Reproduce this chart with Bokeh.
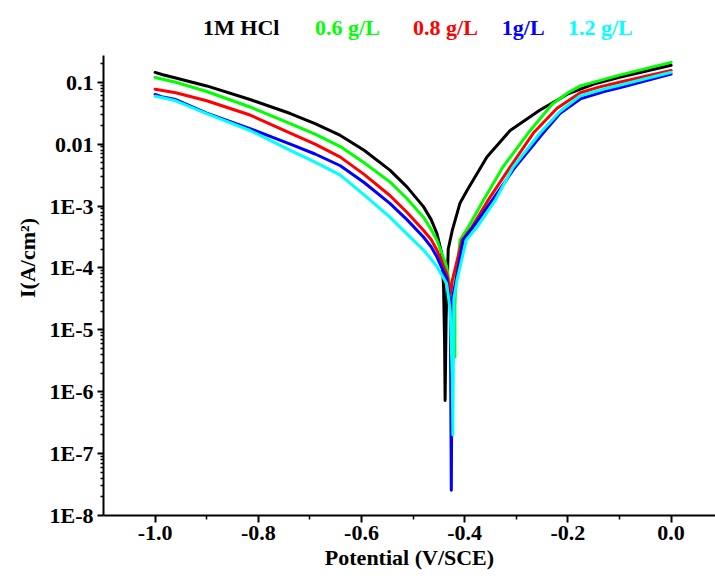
from bokeh.plotting import figure
from bokeh.models import Range1d, FixedTicker, CustomJSTickFormatter, Label
from bokeh.embed import file_html
from bokeh.resources import INLINE

# ---- data (potential V/SCE, current A/cm^2) ----
E_hcl = [-1.000, -0.985, -0.960, -0.900, -0.816, -0.738, -0.690, -0.641, -0.595, -0.545,
         -0.512, -0.480, -0.465, -0.454, -0.445, -0.441, -0.439, -0.438, -0.436, -0.432,
         -0.424, -0.409, -0.395, -0.357, -0.312, -0.254, -0.200, -0.150, -0.100, 0.000]
I_hcl = [1.44e-1, 1.32e-1, 1.17e-1, 8.71e-2, 5.25e-2, 3.12e-2, 2.14e-2, 1.38e-2, 7.94e-3, 3.80e-3,
         2.04e-3, 9.77e-4, 6.03e-4, 3.63e-4, 1.78e-4, 5.01e-5, 6.31e-6, 7.24e-7, 1.58e-5, 2.00e-4,
         4.07e-4, 1.12e-3, 1.82e-3, 6.17e-3, 1.66e-2, 3.55e-2, 6.46e-2, 9.33e-2, 1.20e-1, 1.88e-1]

E_06 = [-1.000, -0.960, -0.900, -0.816, -0.738, -0.690, -0.641, -0.595, -0.545, -0.512,
        -0.480, -0.465, -0.454, -0.435, -0.425, -0.419, -0.419, -0.417, -0.409, -0.393,
        -0.364, -0.326, -0.277, -0.231, -0.200, -0.176, -0.100, 0.000]
I_06 = [1.19e-1, 1.00e-1, 7.08e-2, 3.98e-2, 2.14e-2, 1.45e-2, 9.12e-3, 5.01e-3, 2.45e-3, 1.32e-3,
        6.61e-4, 4.17e-4, 2.82e-4, 1.05e-4, 3.16e-5, 3.63e-6, 2.51e-5, 6.31e-5, 2.82e-4, 4.57e-4,
        1.23e-3, 4.27e-3, 1.51e-2, 4.37e-2, 6.76e-2, 8.71e-2, 1.30e-1, 2.09e-1]

E_08 = [-1.000, -0.960, -0.900, -0.816, -0.738, -0.690, -0.641, -0.595, -0.545, -0.512,
        -0.480, -0.465, -0.454, -0.435, -0.427, -0.424, -0.405, -0.386, -0.355, -0.312,
        -0.267, -0.221, -0.176, -0.140, -0.100, 0.000]
I_08 = [7.71e-2, 6.76e-2, 5.01e-2, 2.95e-2, 1.51e-2, 1.00e-2, 6.17e-3, 3.24e-3, 1.48e-3, 7.94e-4,
        4.07e-4, 2.88e-4, 1.95e-4, 8.13e-5, 3.98e-5, 6.31e-5, 2.82e-4, 4.57e-4, 1.23e-3, 4.27e-3,
        1.51e-2, 3.80e-2, 6.76e-2, 8.32e-2, 1.00e-1, 1.55e-1]

E_1 = [-1.000, -0.985, -0.960, -0.900, -0.816, -0.738, -0.690, -0.641, -0.595, -0.545,
       -0.512, -0.480, -0.465, -0.454, -0.435, -0.428, -0.427, -0.426, -0.425, -0.424,
       -0.417, -0.403, -0.384, -0.347, -0.302, -0.248, -0.215, -0.176, -0.130, -0.100, 0.000]
I_1 = [6.32e-2, 5.75e-2, 5.25e-2, 3.16e-2, 1.78e-2, 1.00e-2, 6.92e-3, 4.47e-3, 2.40e-3, 1.10e-3,
       6.03e-4, 3.16e-4, 2.19e-4, 1.51e-4, 6.76e-5, 2.51e-5, 1.00e-6, 2.57e-8, 1.00e-6, 3.16e-5,
       6.31e-5, 2.82e-4, 4.57e-4, 1.23e-3, 4.27e-3, 1.51e-2, 3.16e-2, 5.37e-2, 7.08e-2, 8.13e-2, 1.35e-1]

E_12 = [-1.000, -0.985, -0.960, -0.900, -0.816, -0.738, -0.690, -0.641, -0.595, -0.545,
        -0.512, -0.480, -0.465, -0.454, -0.435, -0.428, -0.424, -0.423, -0.422, -0.421,
        -0.415, -0.397, -0.376, -0.341, -0.306, -0.254, -0.215, -0.176, -0.130, -0.100, 0.000]
I_12 = [5.94e-2, 5.62e-2, 5.01e-2, 3.10e-2, 1.66e-2, 7.94e-3, 5.13e-3, 3.16e-3, 1.51e-3, 6.61e-4,
        3.55e-4, 1.95e-4, 1.38e-4, 1.05e-4, 5.62e-5, 2.00e-5, 1.58e-6, 2.00e-7, 3.16e-6, 3.16e-5,
        6.31e-5, 2.82e-4, 4.57e-4, 1.23e-3, 4.27e-3, 1.51e-2, 3.39e-2, 6.03e-2, 7.76e-2, 8.91e-2, 1.45e-1]

series_names = ["1M HCl", "0.6 g/L", "0.8 g/L", "1g/L", "1.2 g/L"]
series_colors = ["#000000", "#00FF00", "#FF0000", "#0000FF", "#00FFFF"]
series_E = [E_hcl, E_06, E_08, E_1, E_12]
series_I = [I_hcl, I_06, I_08, I_1, I_12]

x_ticks = [-1.0, -0.8, -0.6, -0.4, -0.2, 0.0]
x_minor = [-0.9, -0.7, -0.5, -0.3, -0.1]
y_exponents = [-8, -7, -6, -5, -4, -3, -2, -1]
y_tick_labels = ["1E-8", "1E-7", "1E-6", "1E-5", "1E-4", "1E-3", "0.01", "0.1"]
y_axis_top = 0.27

FONT = "Liberation Serif"

p = figure(width=715, height=582, output_backend="svg", toolbar_location=None,
           y_axis_type="log",
           x_range=Range1d(-1.1, 0.086), y_range=Range1d(1e-8, 2.09),
           min_border_left=103, min_border_right=0, min_border_top=0, min_border_bottom=67)
p.outline_line_color = None
p.grid.visible = False
p.background_fill_color = "white"
p.border_fill_color = "white"

for E, I, c in zip(series_E, series_I, series_colors):
    p.line(E, I, line_color=c, line_width=3, line_join="round", line_cap="round")

# axes
y_major = [10.0 ** e for e in y_exponents]
y_minor = [k * 10.0 ** e for e in y_exponents for k in range(2, 10) if k * 10.0 ** e <= y_axis_top]
p.yaxis.ticker = FixedTicker(ticks=y_major, minor_ticks=y_minor)
p.yaxis.formatter = CustomJSTickFormatter(args=dict(labels=y_tick_labels),
    code="const e = Math.round(Math.log10(tick)); const i = e + 8; return (i >= 0 && i < labels.length) ? labels[i] : '';")
p.yaxis.bounds = (1e-8, y_axis_top)
p.xaxis.ticker = FixedTicker(ticks=x_ticks, minor_ticks=x_minor)
p.xaxis.formatter = CustomJSTickFormatter(code="return tick.toFixed(1);")

p.xaxis.axis_label = "Potential (V/SCE)"
p.yaxis.axis_label = "I(A/cm²)"

for ax in (p.xaxis[0], p.yaxis[0]):
    ax.axis_line_width = 2
    ax.axis_line_color = "black"
    ax.major_tick_line_width = 2
    ax.minor_tick_line_width = 1.5
    ax.major_tick_line_color = "black"
    ax.minor_tick_line_color = "black"
    ax.major_tick_in = 0
    ax.minor_tick_in = 0
    ax.major_label_text_font = FONT
    ax.major_label_text_font_style = "bold"
    ax.major_label_text_font_size = "22px"
    ax.major_label_text_color = "black"
    ax.axis_label_text_font = FONT
    ax.axis_label_text_font_style = "bold"
    ax.axis_label_text_font_size = "22px"
    ax.axis_label_text_color = "black"

p.xaxis.major_tick_out = 7
p.xaxis.minor_tick_out = 4
p.xaxis.major_label_standoff = 3
p.xaxis.axis_label_standoff = 2
p.yaxis.major_tick_out = 6
p.yaxis.minor_tick_out = 3
p.yaxis.major_label_standoff = 4
p.yaxis.axis_label_standoff = 7

# legend as coloured text above the axes
legend_x = [-0.907, -0.690, -0.500, -0.328, -0.200]
legend_y = 0.774
for name, c, lx in zip(series_names, series_colors, legend_x):
    p.add_layout(Label(x=lx, y=legend_y, text=name, text_color=c, text_font=FONT,
                       text_font_style="bold", text_font_size="22px",
                       text_align="left", text_baseline="alphabetic"))

open("out.html", "w").write(file_html(p, INLINE))
